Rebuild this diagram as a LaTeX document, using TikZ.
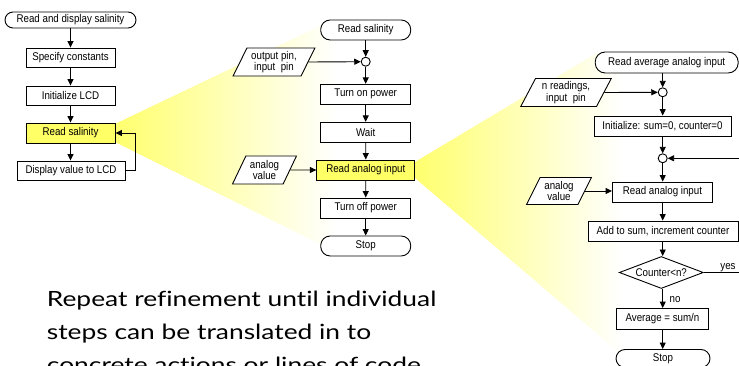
\documentclass[tikz,border=0pt]{standalone}
\usepackage{fontspec}
\setmainfont[FakeStretch=0.87]{Liberation Sans}
\newfontfamily\bigfont[FakeStretch=1.255,Ligatures={NoCommon,NoRare}]{Lato}
\usetikzlibrary{shapes.geometric,arrows.meta}
\definecolor{boxyellow}{RGB}{255,255,102}
\definecolor{wedgeyellow}{RGB}{255,255,110}
\begin{document}
\begin{tikzpicture}[x=1pt,y=-1pt,
  base/.style={draw=black,line width=0.9pt,font=\fontsize{11.2}{11.5}\selectfont,inner sep=0pt,fill=white},
  proc/.style={base,rectangle,minimum height=20pt},
  hl/.style={fill=boxyellow},
  term/.style={base,rectangle,rounded corners=9.5pt,minimum height=20pt},
  iodata/.style={base,trapezium,trapezium left angle=62,trapezium right angle=118,trapezium stretches=true,minimum height=28pt,align=center},
  junc/.style={draw,line width=0.9pt,circle,fill=white,minimum size=9pt,inner sep=0pt},
  dec/.style={base,diamond,aspect=2.625,minimum width=84pt,minimum height=32pt},
  arr/.style={draw,line width=0.9pt,-{Triangle[length=6.5pt,width=6pt]}},
  lbl/.style={font=\fontsize{11.2}{11.5}\selectfont,inner sep=0pt},
  bigtxt/.style={font=\bigfont\fontsize{21}{21}\selectfont,inner sep=0pt,anchor=base west}
]
\useasboundingbox (0,0) rectangle (739,366);
\clip (0,0) rectangle (739,366);
\fill[white] (0,0) rectangle (739,366);

% yellow zoom wedges
\shade[left color=wedgeyellow,right color=white] (115,124) -- (322,25) -- (336,25) -- (336,252) -- (115,142) -- cycle;
\shade[left color=wedgeyellow,right color=white] (415,162) -- (597,53) -- (622,53) -- (622,355) -- (415,178) -- cycle;

% chart 1
\node[term,minimum width=131pt,minimum height=16pt,rounded corners=8pt] (s1) at (70.5,20) {Read and display salinity};
\node[proc,minimum width=89pt,minimum height=19pt] (c1) at (70.5,57.5) {Specify constants};
\node[proc,minimum width=89pt,minimum height=19pt] (c2) at (70.5,95.5) {Initialize LCD};
\node[proc,hl,minimum width=89pt] (c3) at (70.5,133) {Read salinity};
\node[proc,minimum width=108pt,minimum height=19pt] (c4) at (71,170.5) {Display value to LCD};
\draw[arr] (s1) -- (c1);
\draw[arr] (c1) -- (c2);
\draw[arr] (c2) -- (c3);
\draw[arr] (c3) -- (c3 |- c4.north);
\draw[arr] (c4.east) -- ++(10,0) |- (c3.east);

% chart 2
\node[term,minimum width=90pt] (t1) at (365.7,30) {Read salinity};
\node[junc] (j1) at (365.7,61.7) {};
\node[iodata,minimum width=82pt] (p1) at (274,62) {output pin,\\input~ pin};
\node[proc,minimum width=90pt] (b1) at (365.7,94.3) {Turn on power};
\node[proc,minimum width=90pt] (b2) at (365.7,132.3) {Wait};
\node[proc,hl,minimum width=98pt] (b3) at (365.8,170) {Read analog input};
\node[iodata,minimum width=64pt] (p2) at (264.5,170) {analog\\value};
\node[proc,minimum width=90pt] (b4) at (365.7,208) {Turn off power};
\node[term,minimum width=90pt] (t2) at (365.7,246) {Stop};
\draw[arr] (t1) -- (j1);
\draw[arr] (p1.east) -- (j1);
\draw[arr] (j1) -- (b1);
\draw[arr] (b1) -- (b2);
\draw[arr] (b2) -- (b3);
\draw[arr] (p2.east) -- (b3.west);
\draw[arr] (b3) -- (b4);
\draw[arr] (b4) -- (t2);

% chart 3
\node[term,minimum width=143pt,minimum height=21pt,rounded corners=10pt] (u1) at (666.7,62.5) {Read average analog input};
\node[junc] (k1) at (662.7,92.3) {};
\node[iodata,minimum width=91pt] (q1) at (566,92.5) {n readings,\\input~ pin};
\node[proc,minimum width=137pt] (v1) at (662.5,126) {Initialize: sum=0, counter=0};
\node[junc] (k2) at (662.7,158.3) {};
\node[proc,minimum width=100pt] (v2) at (662.5,192) {Read analog input};
\node[iodata,minimum width=65pt,minimum height=27pt] (q2) at (559,191) {analog\\value};
\node[proc,minimum width=150pt] (v3) at (663,231) {Add to sum, increment counter};
\node[dec] (d) at (661.3,272.5) {Counter<n?};
\node[proc,minimum width=92pt,minimum height=21pt] (v4) at (662.5,319) {Average = sum/n};
\node[term,minimum width=94pt,minimum height=18pt,rounded corners=9pt] (u2) at (663,358.5) {Stop};
\coordinate (fbA) at (770,272.5);
\coordinate (fbB) at (770,158.3);
\draw[arr] (u1.south -| k1) -- (k1);
\draw[arr] (q1.east) -- (k1);
\draw[arr] (k1) -- (k1 |- v1.north);
\draw[arr] (k1 |- v1.south) -- (k2);
\draw[arr] (k2) -- (k2 |- v2.north);
\draw[arr] (q2.east) -- (q2.east -| v2.west);
\draw[arr] (k2 |- v2.south) -- (k2 |- v3.north);
\draw[arr] (k2 |- v3.south) -- (k2 |- d.north);
\draw[arr] (k2 |- d.south) -- (k2 |- v4.north);
\draw[arr] (k2 |- v4.south) -- (k2 |- u2.north);
\draw[arr] (d.east) -- (fbA) -- (fbB) -- (k2);
\node[lbl] (yes) at (728,267.5) {yes};
\node[lbl] (no) at (675,300) {no};

% caption
\node[bigtxt] (l1) at (46.7,306.5) {Repeat refinement until individual};
\node[bigtxt] (l2) at (46.7,339.5) {steps can be translated in to};
\node[bigtxt] (l3) at (46.7,372.5) {concrete actions or lines of code};
\end{tikzpicture}
\end{document}
